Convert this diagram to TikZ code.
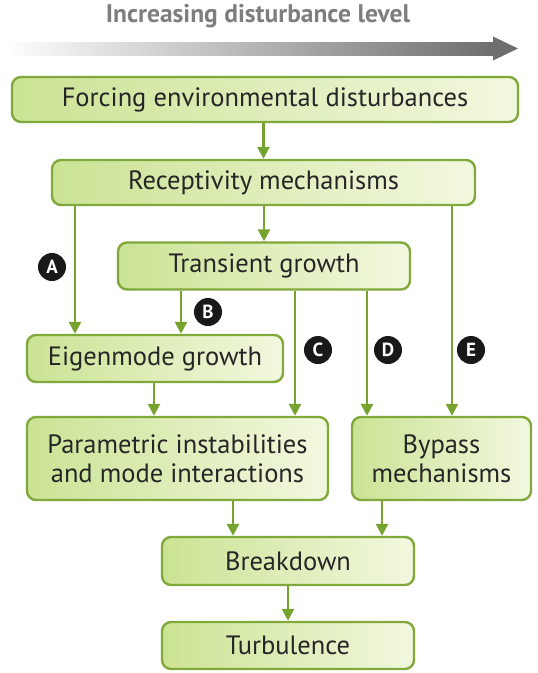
\documentclass[tikz,border=0pt]{standalone}
\usepackage{fontspec}
\setmainfont{PT Sans}
\usetikzlibrary{arrows.meta,shadings}
\definecolor{gborder}{HTML}{80A83A}
\definecolor{gleft}{HTML}{CBE394}
\definecolor{gright}{HTML}{F2F8DF}
\definecolor{gline}{HTML}{76A22E}
\definecolor{darkgray}{HTML}{6E6E6E}
\definecolor{titlegray}{HTML}{7E7E7E}
\tikzset{
  box/.style={draw=gborder, line width=2.4pt, rounded corners=9pt,
    left color=gleft, right color=gright, shading angle=90,
    font=\fontsize{26.5}{29}\selectfont, text=black!85, align=center, inner sep=0pt},
  arr/.style={draw=gline, line width=2.6pt, -{Triangle[width=12pt,length=12pt]}},
  badge/.style={circle, fill=black!90, text=white, minimum size=28pt, inner sep=0pt,
    font=\fontsize{19}{19}\selectfont\bfseries},
}
\begin{document}
\begin{tikzpicture}[x=1pt,y=-1pt]
\useasboundingbox (0,0) rectangle (538,673);
% title and gradient arrow
\node[font=\fontsize{25.5}{27}\selectfont\bfseries, text=titlegray] (title) at (258,16) {Increasing disturbance level};
\shade[left color=white, right color=darkgray] (4,42) rectangle (494,55);
\fill[darkgray] (493,36.5) -- (518,48.5) -- (493,60.5) -- cycle;
% boxes
\node[box, minimum width=506pt, minimum height=45pt] (force) at (265,99.5) {Forcing environmental disturbances};
\node[box, minimum width=423pt, minimum height=45pt] (rec) at (263.5,182.5) {Receptivity mechanisms};
\node[box, minimum width=292pt, minimum height=47pt] (trans) at (264,266) {Transient growth};
\node[box, minimum width=256pt, minimum height=47pt] (eig) at (155,358.5) {Eigenmode growth};
\node[box, minimum width=301pt, minimum height=83pt] (param) at (177.5,458.5) {Parametric instabilities\\and mode interactions};
\node[box, minimum width=179pt, minimum height=83pt] (bypass) at (441.5,458.5) {Bypass\\mechanisms};
\node[box, minimum width=252pt, minimum height=48pt] (brk) at (288,561) {Breakdown};
\node[box, minimum width=252pt, minimum height=47pt] (turb) at (288,645.5) {Turbulence};
% connector x positions
\coordinate (xA) at (75,0);
\coordinate (xB) at (181,0);
\coordinate (xC) at (295,0);
\coordinate (xD) at (367,0);
\coordinate (xE) at (452,0);
\coordinate (xEP) at (154,0);
\coordinate (xPB) at (233,0);
\coordinate (xBB) at (382,0);
% connectors
\draw[arr] (force.south -| rec.north) -- (rec.north);
\draw[arr] (rec.south -| xA) -- (eig.north -| xA);
\draw[arr] (rec.south -| trans.north) -- (trans.north);
\draw[arr] (rec.south -| xE) -- (bypass.north -| xE);
\draw[arr] (trans.south -| xB) -- (eig.north -| xB);
\draw[arr] (trans.south -| xC) -- (param.north -| xC);
\draw[arr] (trans.south -| xD) -- (bypass.north -| xD);
\draw[arr] (eig.south -| xEP) -- (param.north -| xEP);
\draw[arr] (param.south -| xPB) -- (brk.north -| xPB);
\draw[arr] (bypass.south -| xBB) -- (brk.north -| xBB);
\draw[arr] (brk.south) -- (turb.north);
% badges
\node[badge] (A) at (52,267) {A};
\node[badge] (B) at (208,312) {B};
\node[badge] (C) at (318,350) {C};
\node[badge] (D) at (388,350) {D};
\node[badge] (E) at (471,350) {E};
\end{tikzpicture}
\end{document}
